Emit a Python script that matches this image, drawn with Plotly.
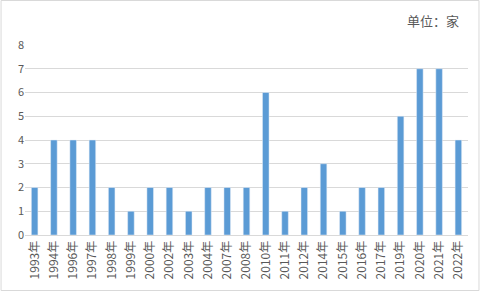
import plotly.graph_objects as go

categories = ["1993年","1994年","1996年","1997年","1998年","1999年","2000年","2002年","2003年",
              "2004年","2007年","2008年","2010年","2011年","2012年","2014年","2015年","2016年",
              "2017年","2019年","2020年","2021年","2022年"]
values = [2,4,4,4,2,1,2,2,1,2,2,2,6,1,2,3,1,2,2,5,7,7,4]
y_ticks = [0,1,2,3,4,5,6,7,8]

W, H = 484, 293
ml, mr, mt, mb = 24.5, 15.5, 45, 58
pw, ph = W - ml - mr, H - mt - mb

fig = go.Figure(go.Bar(x=categories, y=values, marker_color="#5B9BD5", width=0.34))

font = "Noto Sans CJK SC, Microsoft YaHei, sans-serif"
fig.update_layout(
    width=W, height=H,
    margin=dict(l=ml, r=mr, t=mt, b=mb),
    paper_bgcolor="white", plot_bgcolor="white",
    showlegend=False,
    font=dict(family=font, size=11, color="#595959"),
    xaxis=dict(type="category", tickangle=-90, showgrid=False, showline=True,
               linecolor="#D9D9D9", linewidth=1, ticks="", tickfont=dict(size=12, color="#595959")),
    yaxis=dict(range=[0, 8], tickvals=y_ticks, showgrid=True, gridcolor="#D9D9D9",
               gridwidth=1, zeroline=False, showline=False, ticks="",
               tickfont=dict(size=11, color="#595959")),
    annotations=[dict(text="单位：家", xref="paper", yref="paper",
                      x=(461 - ml) / pw, y=1 + (mt - 20) / ph,
                      xanchor="right", yanchor="middle", showarrow=False,
                      font=dict(size=13, color="#595959", family=font))],
    shapes=[dict(type="rect", xref="paper", yref="paper",
                 x0=(0.5 - ml) / pw, x1=(479.5 - ml) / pw,
                 y0=-(mb - 2.5) / ph, y1=1 + (mt - 0.5) / ph,
                 line=dict(color="#D9D9D9", width=1))],
)

fig.write_html("out.html")
